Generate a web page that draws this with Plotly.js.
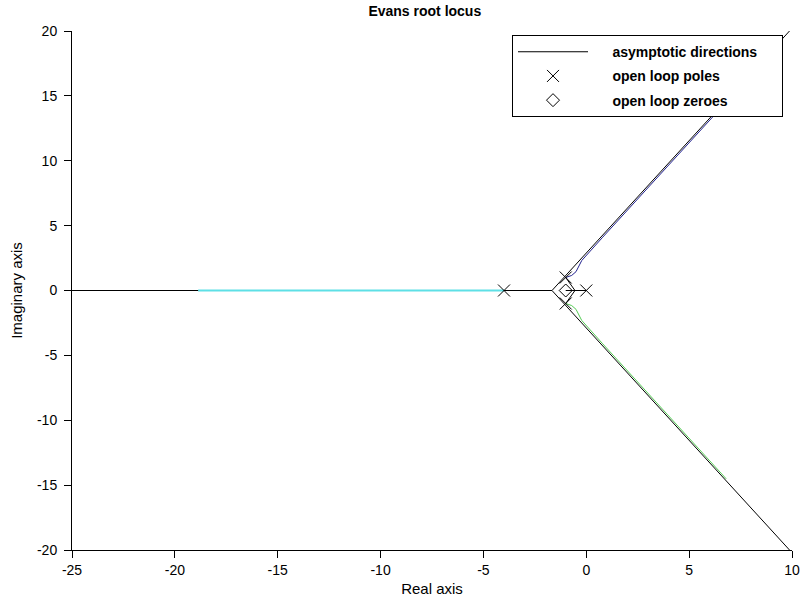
<!DOCTYPE html>
<html>
<head>
<meta charset="utf-8">
<script src="https://cdn.plot.ly/plotly-3.0.1.min.js"></script>
<style>html,body{margin:0;padding:0;background:#fff;}#chart{width:803px;height:600px;}</style>
</head>
<body>
<div id="chart"></div>
<script>
// Asymptotic directions (centre at -5/3 on the real axis)
var asymX = [-25, -1.667, 10, null, -1.667, 10];
var asymY = [0, 0, 20.21, null, 0, -20.21];

// Open loop poles and zeroes
var poleX = [-4, -1, -1, 0];
var poleY = [0, 1, -1, 0];
var zeroX = [-1];
var zeroY = [0];

// Locus branches
var branch1X = [0, -1, null, -1, -0.55, -1];
var branch1Y = [0, 0, null, 1, 0, -1];
var branch2X = [-1, -0.71, -0.5, -0.22, 0.80, 2.58, 4.29, 6.13, 6.80];
var branch2Y = [1, 1.16, 1.45, 2.31, 4.11, 7.19, 10.15, 13.36, 14.51];
var branch3X = [-1, -0.71, -0.5, -0.22, 0.80, 2.58, 4.29, 6.13, 6.80];
var branch3Y = [-1, -1.16, -1.45, -2.31, -4.11, -7.19, -10.15, -13.36, -14.51];
var branch4X = [-4, -18.87];
var branch4Y = [0, 0];

var xTickText = ["-25", "-20", "-15", "-10", "-5", "0", "5", "10"];
var yTickText = ["-20", "-15", "-10", "-5", "0", "5", "10", "15", "20"];

var fontFam = "Liberation Sans, Arial, sans-serif";
var pad = "\u00a0\u00a0\u00a0\u00a0\u00a0";

var traces = [
  {x: asymX, y: asymY, mode: "lines", name: pad + "<b>asymptotic directions</b>" + pad, legendgroup: "a",
   line: {color: "#000000", width: 1}},
  {x: branch1X, y: branch1Y, mode: "lines", line: {color: "#000000", width: 1}, showlegend: false},
  {x: branch4X, y: branch4Y, mode: "lines", line: {color: "#5ee0e6", width: 2}, showlegend: false},
  {x: branch2X, y: branch2Y, mode: "lines", line: {color: "#24248f", width: 1}, showlegend: false},
  {x: branch3X, y: branch3Y, mode: "lines", line: {color: "#55cc55", width: 1}, showlegend: false},
  {x: poleX, y: poleY, mode: "markers", name: pad + "<b>open loop poles</b>", legendgroup: "p",
   marker: {symbol: "x-thin-open", size: 12, color: "#000000", line: {color: "#000000", width: 1}}},
  {x: zeroX, y: zeroY, mode: "markers", name: pad + "<b>open loop zeroes</b>", legendgroup: "z",
   marker: {symbol: "diamond-open", size: 10, color: "#000000", line: {color: "#000000", width: 1}}}
];

var layout = {
  width: 803, height: 600,
  margin: {l: 72, r: 11, t: 31, b: 50},
  paper_bgcolor: "#ffffff", plot_bgcolor: "#ffffff",
  font: {family: fontFam, size: 14, color: "#000000"},
  title: {text: "<b>Evans root locus</b>", x: 0.49, xref: "paper", y: 0.99, yanchor: "top", font: {size: 14, family: fontFam}},
  xaxis: {
    range: [-25, 10], showgrid: false, zeroline: false, showline: true, linecolor: "#000000", linewidth: 1,
    ticks: "outside", ticklen: 7, tickcolor: "#000000", tickvals: xTickText.map(Number), ticktext: xTickText,
    tickfont: {size: 14}, title: {text: "Real axis", standoff: 6, font: {size: 15}}
  },
  yaxis: {
    range: [-20, 20], showgrid: false, zeroline: false, showline: true, linecolor: "#000000", linewidth: 1,
    ticks: "outside", ticklen: 7, tickcolor: "#000000", tickvals: yTickText.map(Number), ticktext: yTickText,
    ticklabelstandoff: 4,
    tickfont: {size: 14}, title: {text: "Imaginary axis", standoff: 10, font: {size: 15}}
  },
  legend: {
    x: 0.9875, xanchor: "right", y: 0.992, yanchor: "top",
    bgcolor: "#ffffff", bordercolor: "#000000", borderwidth: 1,
    font: {size: 14, family: fontFam}, itemwidth: 70, tracegroupgap: 3
  },
  showlegend: true
};

Plotly.newPlot("chart", traces, layout, {staticPlot: true, displayModeBar: false});
</script>
</body>
</html>
